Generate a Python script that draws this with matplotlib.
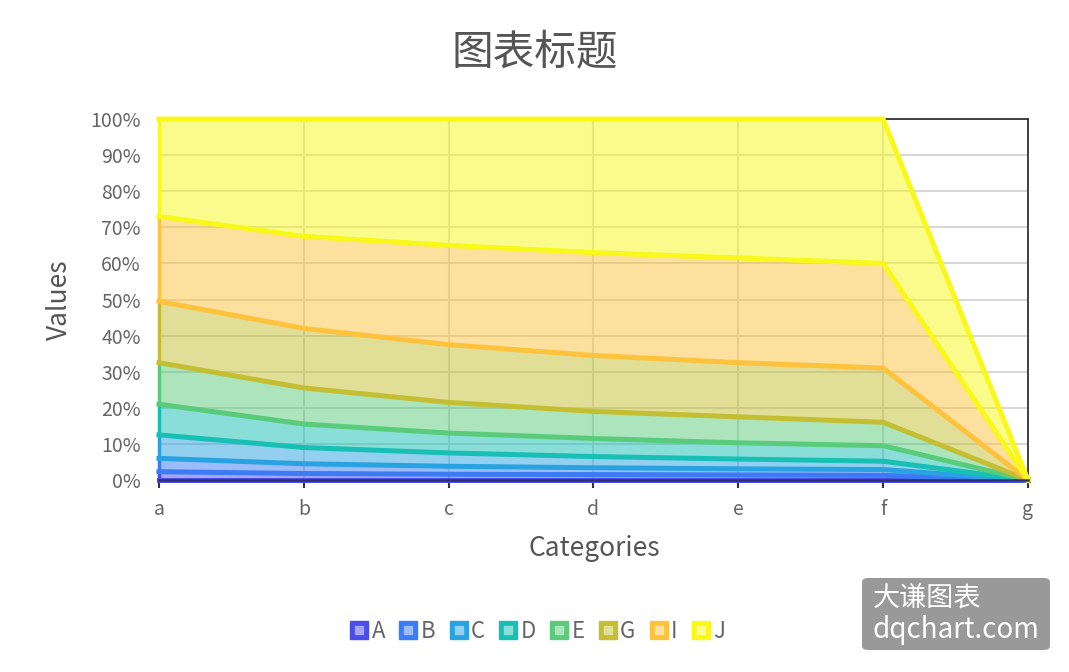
import numpy as np
import matplotlib.pyplot as plt
from matplotlib.lines import Line2D
from matplotlib.legend_handler import HandlerTuple
from matplotlib.patches import FancyBboxPatch
from matplotlib.colors import to_rgb

plt.rcParams['font.family'] = ['Noto Sans CJK SC', 'DejaVu Sans']

categories = ['a', 'b', 'c', 'd', 'e', 'f', 'g']
series_names = ['A', 'B', 'C', 'D', 'E', 'G', 'I', 'J']

A = [2.3, 1.8, 1.6, 1.5, 1.4, 1.3, 0]
B = [3.7, 2.7, 2.2, 1.9, 1.7, 1.6, 0]
C = [6.5, 4.5, 3.7, 3.1, 2.7, 2.3, 0]
D = [8.5, 6.5, 5.5, 5.0, 4.5, 4.3, 0]
E = [11.5, 10.0, 8.5, 7.5, 7.2, 6.5, 0]
G = [17.0, 16.5, 16.0, 15.5, 15.0, 15.0, 0]
I = [23.5, 25.5, 27.5, 28.5, 29.0, 29.0, 0]
J = [27.0, 32.5, 35.0, 37.0, 38.5, 40.0, 0]

colors = ['#4b4de8', '#3b7bf5', '#29a2e2', '#17bfb5',
          '#5acb7a', '#c4bf32', '#fdc33c', '#f8f81a']

values = np.array([A, B, C, D, E, G, I, J], dtype=float)
totals = values.sum(axis=0)
share = np.divide(values, totals, out=np.zeros_like(values), where=totals > 0) * 100
cum = np.vstack([np.zeros(len(categories)), np.cumsum(share, axis=0)])
x = np.arange(len(categories))

fig = plt.figure(figsize=(10.69, 6.72), dpi=100)
ax = fig.add_axes([0.1487, 0.2857, 0.8129, 0.5372])

# stacked 100% areas
for k in range(len(series_names)):
    ax.fill_between(x, cum[k], cum[k + 1], color=colors[k], alpha=0.5,
                    linewidth=0, zorder=2)
    # coloured edge at the first category
    ax.plot([0, 0], [cum[k][0], cum[k + 1][0]], color=colors[k], lw=2.5,
            zorder=3, clip_on=False, solid_capstyle='butt')

for k in range(len(series_names)):
    ax.plot(x, cum[k], color=colors[k], lw=3.6, zorder=4 + k, clip_on=False,
            solid_joinstyle='round')
ax.plot(x, cum[-1], color=colors[-1], lw=3.6, zorder=12, clip_on=False,
        solid_joinstyle='round')

ax.set_xlim(0, len(categories) - 1)
ax.set_ylim(0, 100)
ax.set_xticks(x)
ax.set_xticklabels(categories)
ax.set_yticks(np.arange(0, 101, 10))
ax.set_yticklabels([f'{v}%' for v in range(0, 101, 10)])
ax.grid(True, color='#d8d8d8', lw=1.5, zorder=1)
ax.set_axisbelow(True)

ax.tick_params(axis='x', direction='out', length=6, width=1.5, color='#333333',
               labelsize=14, labelcolor='#666666', pad=8)
ax.tick_params(axis='y', length=0, labelsize=14, labelcolor='#666666', pad=13)

ax.spines['left'].set_visible(False)
for side in ['top', 'right']:
    ax.spines[side].set_color('#333333')
    ax.spines[side].set_linewidth(1.3)
ax.spines['bottom'].set_color('#2e3070')
ax.spines['bottom'].set_linewidth(1.8)
ax.spines['bottom'].set_zorder(20)

fig.text(0.5, 0.922, '图表标题', ha='center', va='center', fontsize=30, color='#555555')
fig.text(0.056, 0.554, 'Values', ha='center', va='center', rotation=90,
         fontsize=19, color='#555555')
fig.text(0.5557, 0.1845, 'Categories', ha='center', va='center',
         fontsize=19, color='#555555')

# legend
handles = []
for c in colors:
    r, g, b = to_rgb(c)
    light = (r + (1 - r) * 0.5, g + (1 - g) * 0.5, b + (1 - b) * 0.5)
    outer = Line2D([], [], marker='s', ms=13, color=c, ls='none')
    inner = Line2D([], [], marker='s', ms=5.5, color=light, ls='none')
    handles.append((outer, inner))
fig.legend(handles, series_names, loc='center', bbox_to_anchor=(0.5025, 0.061),
           ncol=len(series_names), frameon=False, handletextpad=0.1,
           columnspacing=0.6, handlelength=0.9, fontsize=16,
           labelcolor='#666666',
           handler_map={tuple: HandlerTuple(ndivide=1, pad=0)})

# watermark
box = FancyBboxPatch((862 / 1069, 1 - 650 / 672), 188 / 1069, 72 / 672,
                     boxstyle='round,pad=0,rounding_size=0.006',
                     transform=fig.transFigure, facecolor='#999999',
                     edgecolor='none', zorder=30)
fig.patches.append(box)
fig.text(873 / 1069, 1 - 598 / 672, '大谦图表', ha='left', va='center',
         fontsize=19.5, color='white', zorder=31)
fig.text(873 / 1069, 1 - 630 / 672, 'dqchart.com', ha='left', va='center',
         fontsize=20, color='white', zorder=31)

fig.savefig('out.png', dpi=100)
